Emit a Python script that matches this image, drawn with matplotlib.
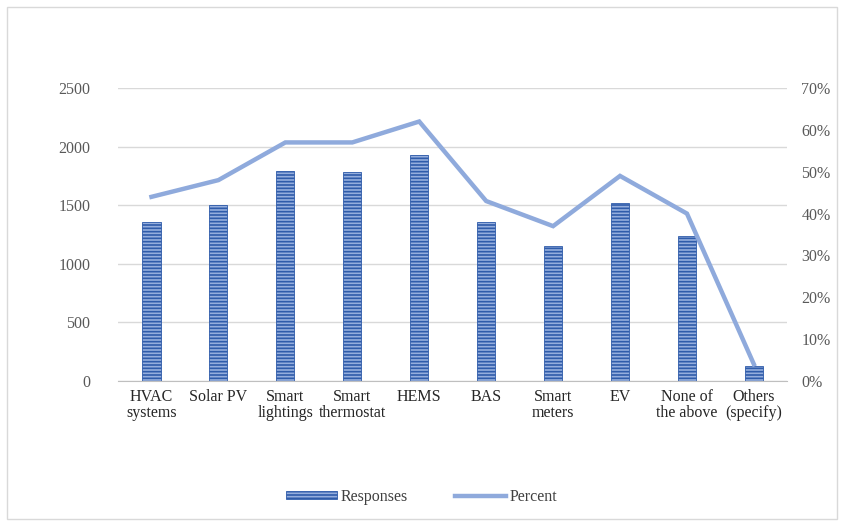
import numpy as np
import matplotlib.pyplot as plt
from matplotlib.patches import Rectangle

categories = ["HVAC\nsystems", "Solar PV", "Smart\nlightings", "Smart\nthermostat",
              "HEMS", "BAS", "Smart\nmeters", "EV", "None of\nthe above", "Others\n(specify)"]
responses = [1360, 1500, 1795, 1785, 1925, 1355, 1150, 1520, 1235, 130]
percent = [44, 48, 57, 57, 62, 43, 37, 49, 40, 4]

plt.rcParams['font.family'] = ['Liberation Serif', 'DejaVu Serif']
plt.rcParams['hatch.linewidth'] = 1.2
plt.rcParams['hatch.color'] = '#2F5CAA'

fig = plt.figure(figsize=(8.43, 5.23), dpi=100)
fig.patches.append(Rectangle((0.008, 0.008), 0.985, 0.978, transform=fig.transFigure,
                             fill=False, edgecolor='#D9D9D9', linewidth=1))

ax = fig.add_axes([0.14, 0.2715, 0.794, 0.5602])
x = np.arange(len(categories))

ax.bar(x, responses, width=0.27, color='#95AEDD', edgecolor='#2F5CAA',
       hatch='-----', linewidth=0.6, label="Responses", zorder=2)
ax.set_ylim(0, 2500)
ax.set_yticks(np.arange(0, 2501, 500))
ax.set_xlim(-0.5, len(categories) - 0.5)
ax.set_xticks(x)
ax.set_xticklabels(categories, fontsize=11.5, color='#262626', linespacing=1.0)
ax.tick_params(axis='y', labelsize=11.5, labelcolor='#595959', length=0, pad=20)
ax.tick_params(axis='x', length=0, pad=6)
ax.grid(axis='y', color='#D9D9D9', linewidth=1, zorder=0)
for s in ['top', 'right', 'left']:
    ax.spines[s].set_visible(False)
ax.spines['bottom'].set_color('#BFBFBF')

ax2 = ax.twinx()
ax2.plot(x, percent, color='#8FAADC', linewidth=3.2, label="Percent", zorder=3,
         solid_joinstyle='miter')
ax2.set_ylim(0, 70)
ax2.set_yticks(np.arange(0, 71, 10))
ax2.set_yticklabels([f"{v}%" for v in range(0, 71, 10)])
ax2.tick_params(axis='y', labelsize=11.5, labelcolor='#595959', length=0, pad=10)
for s in ax2.spines.values():
    s.set_visible(False)

h1, l1 = ax.get_legend_handles_labels()
h2, l2 = ax2.get_legend_handles_labels()
fig.legend(h1 + h2, l1 + l2, loc='center', bbox_to_anchor=(0.5, 0.05), ncol=2,
           frameon=False, fontsize=11.5, handlelength=3.2, handleheight=0.35,
           columnspacing=3, handletextpad=0.2, labelcolor='#404040')

fig.savefig("out.png", dpi=100)
